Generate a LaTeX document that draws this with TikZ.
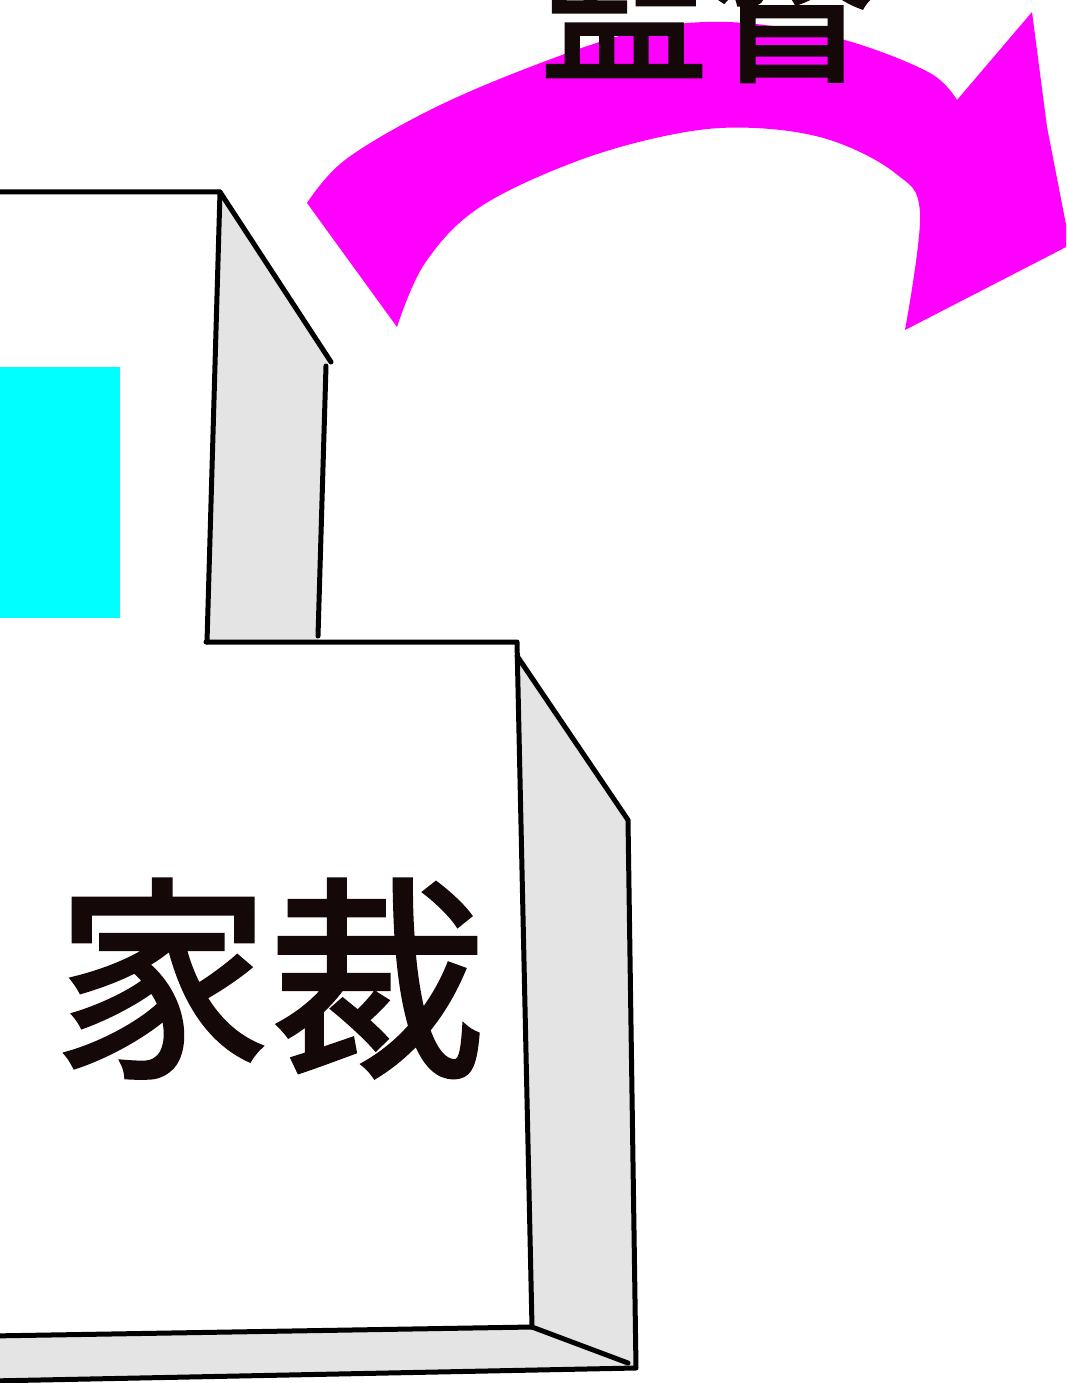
\documentclass[tikz,border=0pt]{standalone}
\usepackage{fontspec}
\newfontfamily\cjk{Noto Sans CJK JP}[FakeBold=2]
\definecolor{sidegray}{HTML}{E4E4E4}
\definecolor{arrowmag}{HTML}{FF00FF}
\definecolor{boxcyan}{HTML}{00FFFF}
\definecolor{inkdark}{HTML}{140808}
\tikzset{
  edge/.style={draw=black, line width=5pt, line cap=round, line join=round},
  side/.style={fill=sidegray},
  bigtext/.style={inner sep=0pt, anchor=base, text=inkdark}
}
\begin{document}
\begin{tikzpicture}[x=1pt,y=-1pt]
\useasboundingbox (0,0) rectangle (1066,1383);
\fill[white] (0,0) rectangle (1066,1383);
\clip (0,0) rectangle (1066,1383);

% magenta curved arrow
\fill[arrowmag] plot[smooth, tension=0.6] coordinates {(307,203) (345,160) (430,110) (530,67) (630,33) (705,22) (780,27) (855,43) (930,73) (957,100)}
  -- (1032,12) -- (1047,127) -- (1070,245) -- (905,330)
  -- plot[smooth, tension=0.6] coordinates {(905,330) (920,213) (895,173) (830,140) (755,128) (680,133) (580,160) (480,207) (425,263) (397,327)}
  -- cycle;

% top label
\node[bigtext, font=\cjk\fontsize{168}{168}\selectfont] (kantoku) at (708,68) {監督};

% upper box
\fill[side] (220,192) -- (331,362) -- (326,366) -- (318,642) -- (207,642) -- cycle;
\fill[boxcyan] (0,367) rectangle (120,618);
\draw[edge] (-10,192) -- (220,192) -- (207,642);
\draw[edge] (220,192) -- (331,362);
\draw[edge] (326,366) -- (318,636);

% lower box
\fill[side] (517,650) -- (628,820) -- (636,1368) -- (628,1363) -- (532,1327) -- cycle;
\fill[side] (-10,1336) -- (532,1327) -- (628,1363) -- (636,1368) -- (-10,1381) -- cycle;
\draw[edge] (206,642) -- (517,642) -- (532,1327) -- (-10,1336);
\draw[edge] (517,656) -- (628,820) -- (636,1368) -- (-10,1381);
\draw[edge] (532,1327) -- (628,1363);

% box label
\node[bigtext, font=\cjk\fontsize{215}{215}\selectfont] (kasai) at (270,1060) {家裁};
\end{tikzpicture}
\end{document}
